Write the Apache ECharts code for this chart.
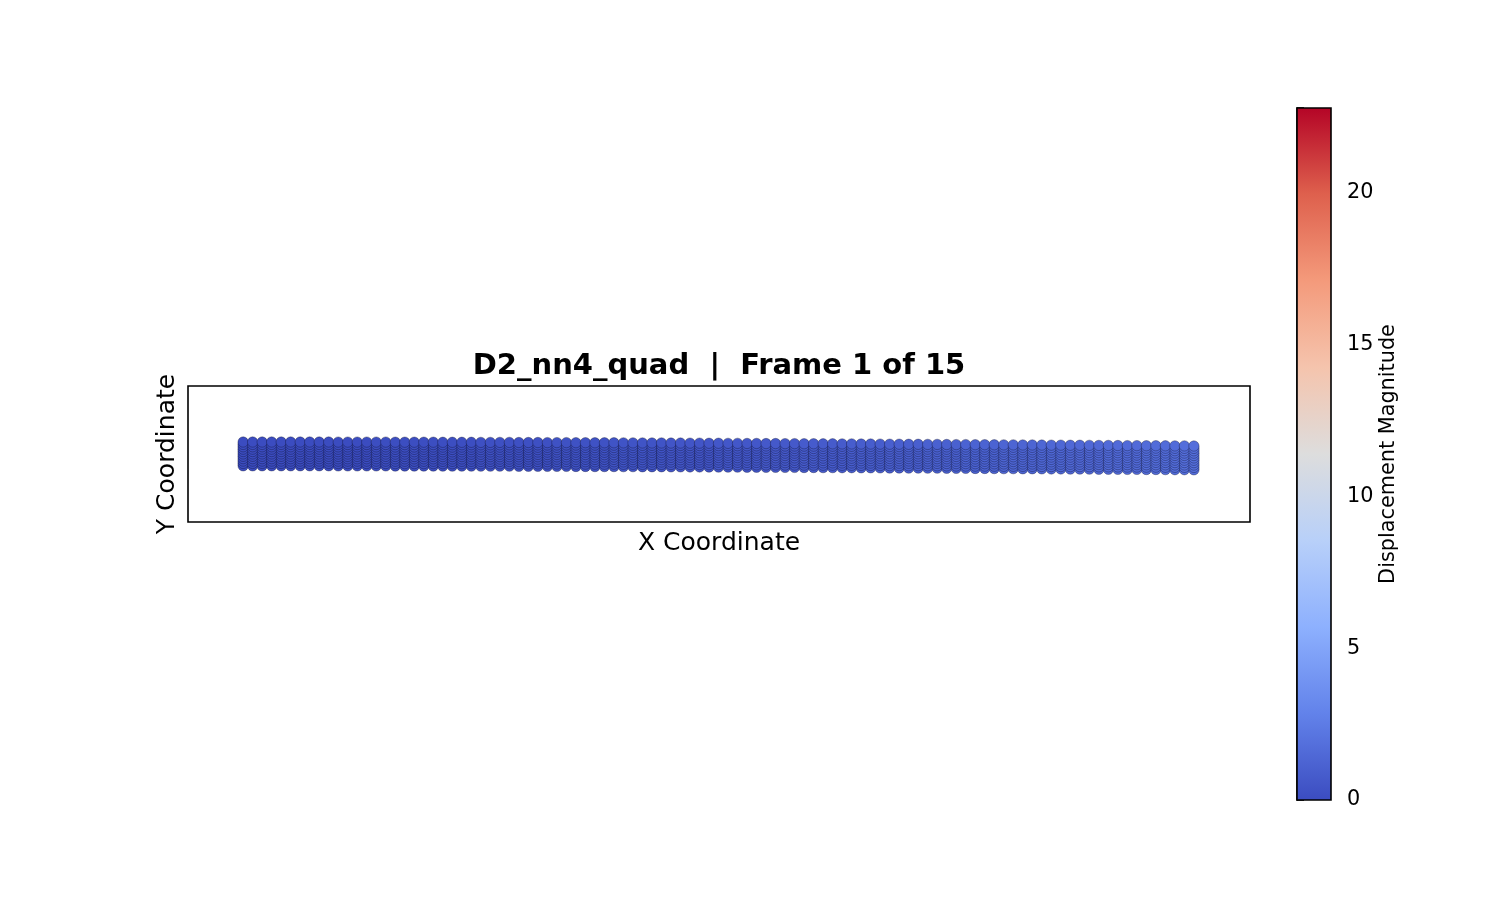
<!DOCTYPE html>
<html>
<head>
<meta charset="utf-8">
<script src="https://cdn.jsdelivr.net/npm/echarts@6/dist/echarts.min.js"></script>
<style>html,body{margin:0;padding:0;background:#fff}#c{width:1500px;height:900px}</style>
</head>
<body>
<div id="c"></div>
<script>
// Node columns (x), node rows (y), per-column vertical deflection and displacement magnitude
const colX = [0,1,2,3,4,5,6,7,8,9,10,11,12,13,14,15,16,17,18,19,20,21,22,23,24,25,26,27,28,29,30,31,32,33,34,35,36,37,38,39,40,41,42,43,44,45,46,47,48,49,50,51,52,53,54,55,56,57,58,59,60,61,62,63,64,65,66,67,68,69,70,71,72,73,74,75,76,77,78,79,80,81,82,83,84,85,86,87,88,89,90,91,92,93,94,95,96,97,98,99,100];
const rowY = [0,0.25,0.5,0.75,1,1.25,1.5,1.75,2,2.25,2.5];
const colSag = [0,0,0,0,0,0,0,0,0,0,
  0.01,0.01,0.01,0.01,0.01,0.01,0.02,0.02,0.02,0.02,0.02,0.03,0.03,0.03,0.03,
  0.04,0.04,0.04,0.04,0.05,0.05,0.05,0.06,0.06,0.06,0.07,0.07,0.08,0.08,0.08,
  0.09,0.09,0.10,0.10,0.10,0.11,0.11,0.12,0.12,0.13,0.13,0.14,0.14,0.15,0.15,
  0.16,0.16,0.17,0.17,0.18,0.18,0.19,0.19,0.20,0.20,0.21,0.21,0.22,0.23,0.23,
  0.24,0.24,0.25,0.25,0.26,0.27,0.27,0.28,0.28,0.29,0.30,0.30,0.31,0.31,0.32,
  0.33,0.33,0.34,0.34,0.35,0.36,0.36,0.37,0.38,0.38,0.39,0.39,0.40,0.41,0.41,0.42];
const colMag = [0,0,0,0,0,0,0,0,0,0,0,0,0,0,
  0.1,0.1,0.1,0.1,0.1,0.1,0.1,0.1,0.1,0.1,0.1,
  0.2,0.2,0.2,0.2,0.2,0.2,0.2,0.2,
  0.3,0.3,0.3,0.3,0.3,0.3,
  0.4,0.4,0.4,0.4,0.4,0.4,
  0.5,0.5,0.5,0.5,0.5,
  0.6,0.6,0.6,0.6,0.6,
  0.7,0.7,0.7,0.7,
  0.8,0.8,0.8,0.8,0.8,
  0.9,0.9,0.9,0.9,
  1.0,1.0,1.0,1.0,
  1.1,1.1,1.1,1.1,
  1.2,1.2,1.2,1.2,
  1.3,1.3,1.3,1.3,
  1.4,1.4,1.4,
  1.5,1.5,1.5,1.5,
  1.6,1.6,1.6,1.6,
  1.7,1.7,1.7,1.7,
  1.8,1.8];
const cbRange = [0, 22.8];
const cbTicks = [0, 5, 10, 15, 20];
const coolwarm = ['#3b4cc0','#6282ea','#8db0fe','#b8d0f9','#dddddd','#f5c4ad','#f49a7b','#de604d','#b40426'];
const titleText = 'D2_nn4_quad  |  Frame 1 of 15';

const points = [];
for (let r = 0; r < rowY.length; r++) {
  for (let c = 0; c < colX.length; c++) {
    points.push([colX[c], rowY[r] - colSag[c], colMag[c]]);
  }
}

const FONT = 'DejaVu Sans';
const chart = echarts.init(document.getElementById('c'), null, {renderer: 'canvas'});
const stops = coolwarm.map((col, i) => ({offset: i / (coolwarm.length - 1), color: col}));

chart.setOption({
  backgroundColor: '#fff',
  animation: false,
  title: {
    text: titleText,
    left: 719, top: 351.5, textAlign: 'center', padding: 0,
    textStyle: {fontFamily: FONT, fontSize: 29, fontWeight: 'bold', color: '#000'}
  },
  grid: [
    {left: 188, top: 386, width: 1062, height: 136, show: true, borderColor: '#000', borderWidth: 1.6, backgroundColor: 'transparent', containLabel: false},
    {left: 1297, top: 108, width: 34, height: 692, show: false, containLabel: false}
  ],
  xAxis: [
    {gridIndex: 0, type: 'value', min: -5.8, max: 105.9,
     name: 'X Coordinate', nameLocation: 'middle', nameGap: 8.5,
     nameTextStyle: {fontFamily: FONT, fontSize: 25, color: '#000'},
     axisLine: {show: false}, axisTick: {show: false}, axisLabel: {show: false}, splitLine: {show: false}},
    {gridIndex: 1, type: 'value', min: 0, max: 1, show: false}
  ],
  yAxis: [
    {gridIndex: 0, type: 'value', min: -5.91, max: 8.39,
     name: 'Y Coordinate', nameLocation: 'middle', nameGap: 8,
     nameTextStyle: {fontFamily: FONT, fontSize: 25, color: '#000'},
     axisLine: {show: false}, axisTick: {show: false}, axisLabel: {show: false}, splitLine: {show: false}},
    {gridIndex: 1, type: 'value', position: 'right', min: cbRange[0], max: cbRange[1], interval: 5,
     name: 'Displacement Magnitude', nameLocation: 'middle', nameGap: 47, nameRotate: 90,
     nameTextStyle: {fontFamily: FONT, fontSize: 20.8, color: '#000'},
     axisLine: {show: true, lineStyle: {color: '#000', width: 1.6}},
     axisTick: {show: true, inside: false, length: 7, lineStyle: {color: '#000', width: 1.6}},
     axisLabel: {show: true, margin: 16, fontFamily: FONT, fontSize: 20.8, color: '#000', padding: [5, 0, 0, 0],
       formatter: v => (cbTicks.indexOf(v) >= 0 ? String(v) : '')},
     splitLine: {show: false}}
  ],
  visualMap: {
    type: 'continuous', show: false, seriesIndex: 0, dimension: 2,
    min: cbRange[0], max: cbRange[1], inRange: {color: coolwarm}
  },
  series: [
    {
      type: 'scatter', xAxisIndex: 0, yAxisIndex: 0,
      data: points, symbol: 'circle', symbolSize: 10.4,
      progressive: 0, large: false,
      itemStyle: {borderColor: 'rgba(10,10,30,0.65)', borderWidth: 0.5, opacity: 1},
      emphasis: {disabled: true}, silent: true
    },
    {
      type: 'custom', xAxisIndex: 1, yAxisIndex: 1,
      data: [[cbRange[0], cbRange[1]]], silent: true, z: 1,
      renderItem: function (params, api) {
        const p0 = api.coord([0, api.value(0)]);
        const p1 = api.coord([1, api.value(1)]);
        return {
          type: 'rect',
          shape: {x: p0[0], y: p1[1], width: p1[0] - p0[0], height: p0[1] - p1[1]},
          style: {fill: new echarts.graphic.LinearGradient(0, 1, 0, 0, stops), stroke: '#000', lineWidth: 1.6}
        };
      }
    }
  ]
});
</script>
</body>
</html>
